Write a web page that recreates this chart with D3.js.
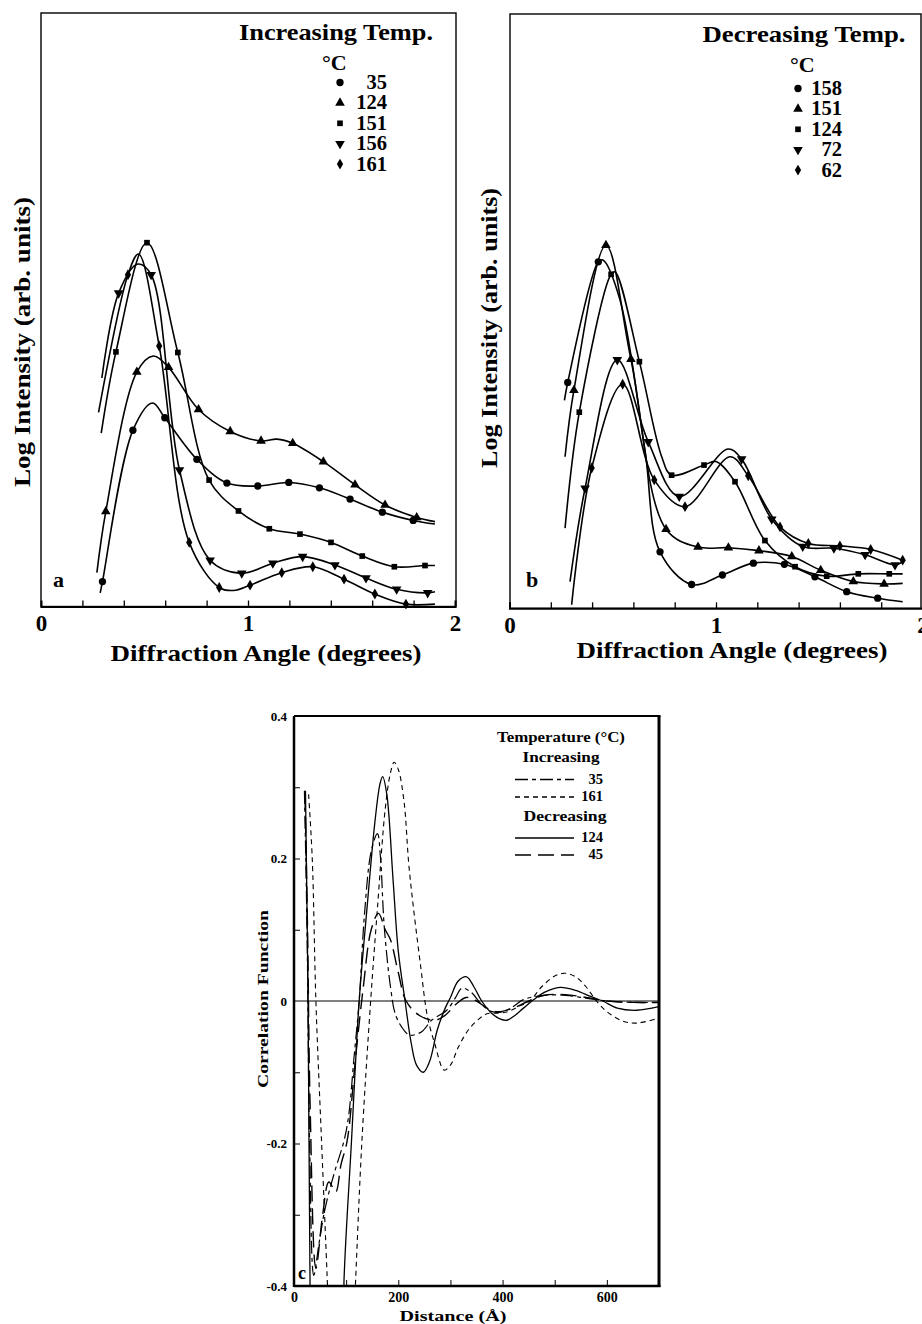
<!DOCTYPE html>
<html><head><meta charset="utf-8">
<script src="https://cdn.jsdelivr.net/npm/d3@7"></script>
<style>body{margin:0;background:#fff}svg{display:block;background:#fff}</style>
</head><body>
<svg id="c" width="922" height="1324"></svg>
<script>
// ================= DATA =================
// Panel a: increasing temperature (x = diffraction angle, y = log intensity, arb. units 0..10)
const a35_x  = [0.286,0.297,0.444,0.539,0.598,0.753,0.898,1.047,1.197,1.345,1.493,1.649,1.798,1.903];
const a35_y  = [0.23,0.42,2.97,3.43,3.18,2.48,2.08,2.03,2.09,2.00,1.81,1.59,1.45,1.39];
const a35_m  = [0,1,1,0,1,1,1,1,1,1,1,1,1,0];
const a124_x = [0.270,0.313,0.463,0.542,0.616,0.761,0.914,1.063,1.140,1.216,1.364,1.517,1.662,1.815,1.903];
const a124_y = [0.57,1.60,3.95,4.22,4.03,3.32,2.95,2.79,2.82,2.75,2.44,2.05,1.71,1.50,1.43];
const a124_m = [0,1,1,0,1,1,1,1,0,1,1,1,1,1,0];
const a151_x = [0.291,0.362,0.512,0.661,0.812,0.954,1.103,1.251,1.401,1.552,1.707,1.855,1.903];
const a151_y = [2.92,4.29,6.13,4.28,2.13,1.61,1.31,1.22,1.08,0.85,0.67,0.69,0.69];
const a151_m = [0,1,1,1,1,1,1,1,1,1,1,1,0];
const a156_x = [0.294,0.375,0.468,0.532,0.669,0.817,0.970,1.120,1.264,1.420,1.570,1.718,1.868,1.903];
const a156_y = [3.85,5.28,5.77,5.59,2.30,0.78,0.56,0.73,0.84,0.70,0.48,0.29,0.23,0.25];
const a156_m = [0,1,0,1,1,1,1,1,1,1,1,1,1,0];
const a161_x = [0.278,0.420,0.471,0.571,0.716,0.861,0.930,1.010,1.163,1.313,1.464,1.613,1.763,1.903];
const a161_y = [3.27,5.59,5.94,4.39,1.08,0.32,0.27,0.36,0.57,0.67,0.46,0.21,0.04,0.04];
const a161_m = [0,1,0,1,1,1,0,1,1,1,1,1,1,0];

// Panel b: decreasing temperature
const b158_x = [0.266,0.282,0.430,0.452,0.535,0.656,0.729,0.882,1.031,1.181,1.331,1.479,1.633,1.783,1.904];
const b158_y = [3.50,3.80,5.83,5.86,5.19,2.66,0.95,0.40,0.56,0.76,0.74,0.53,0.28,0.17,0.11];
const b158_m = [0,1,1,0,0,0,1,1,1,1,1,1,1,1,0];
const b151_x = [0.269,0.312,0.467,0.588,0.758,0.913,1.060,1.208,1.367,1.507,1.665,1.814,1.904];
const b151_y = [2.55,3.67,6.11,4.19,1.33,1.03,1.02,0.97,0.87,0.64,0.45,0.41,0.42];
const b151_m = [0,1,1,1,1,1,1,1,1,1,1,1,0];
const b124_x = [0.269,0.338,0.492,0.511,0.629,0.737,0.785,0.942,1.000,1.092,1.237,1.383,1.536,1.689,1.839,1.904];
const b124_y = [1.35,3.30,5.62,5.66,4.15,2.55,2.24,2.41,2.47,2.13,1.14,0.70,0.54,0.58,0.58,0.58];
const b124_m = [0,1,1,0,1,0,1,1,0,1,1,1,1,1,1,0];
const b72_x  = [0.293,0.366,0.522,0.672,0.822,1.058,1.124,1.270,1.420,1.571,1.722,1.867,1.904];
const b72_y  = [0.45,2.02,4.18,2.80,1.88,2.68,2.51,1.50,1.04,1.01,0.90,0.73,0.78];
const b72_m  = [0,1,1,1,1,0,1,1,1,1,1,1,0];
const b62_x  = [0.301,0.398,0.548,0.701,0.850,1.068,1.156,1.310,1.447,1.600,1.749,1.904];
const b62_y  = [0.06,2.36,3.77,2.16,1.71,2.55,2.23,1.37,1.09,1.05,0.99,0.81];
const b62_m  = [0,1,1,1,1,0,1,1,1,1,1,1];

// Panel c: correlation function vs distance (Å)
const c35_x  = [20,25,30,38,48,60,77,96,105,115,125,135,148,160,166,173,185,195,210,222,245,264,293,310,322,340,360,380,400,420,440,480,520,560,600,650,700];
const c35_y  = [0.295,0.1,-0.2,-0.385,-0.34,-0.29,-0.242,-0.196,-0.16,-0.08,0.0,0.12,0.21,0.235,0.2,0.105,0.02,-0.02,-0.04,-0.048,-0.043,-0.027,-0.013,0.005,0.018,0.012,-0.005,-0.015,-0.015,-0.008,0.002,0.008,0.008,0.004,0.0,-0.002,-0.002];
const c161_x = [28,35,42,53,64,72,100,112,118,130,147,160,175,185,192,200,211,221,243,256,270,288,300,315,335,355,370,390,410,430,452,475,500,520,540,560,580,600,630,657,700];
const c161_y = [0.29,0.2,0.0,-0.2,-0.395,-0.55,-0.6,-0.5,-0.395,-0.2,0.0,0.13,0.27,0.32,0.335,0.325,0.28,0.185,0.048,-0.022,-0.06,-0.097,-0.09,-0.065,-0.04,-0.025,-0.018,-0.017,-0.015,-0.008,0.0,0.02,0.035,0.039,0.034,0.02,0.0,-0.015,-0.028,-0.031,-0.024];
const c124_x = [22,27,31,36,90,96,110,125,140,155,165,170,178,190,200,213,225,235,248,260,275,290,300,315,331,345,360,380,395,408,420,440,460,480,510,540,570,592,620,657,700];
const c124_y = [0.295,0.0,-0.42,-0.6,-0.6,-0.39,-0.2,0.0,0.13,0.25,0.305,0.315,0.29,0.17,0.07,0.0,-0.06,-0.09,-0.1,-0.085,-0.04,-0.01,0.005,0.028,0.034,0.02,0.0,-0.018,-0.025,-0.027,-0.022,-0.01,0.002,0.012,0.019,0.015,0.006,0.0,-0.01,-0.013,-0.008];
const c45_x  = [21,26,31,42,55,67,80,90,102,118,133,148,162,175,185,200,215,240,270,290,310,330,350,370,390,420,450,480,520,560,600,650,700];
const c45_y  = [0.29,0.1,-0.15,-0.375,-0.3,-0.254,-0.268,-0.23,-0.196,-0.08,0.02,0.1,0.123,0.1,0.086,0.04,0.0,-0.02,-0.027,-0.02,-0.005,0.005,0.0,-0.01,-0.015,-0.01,0.0,0.008,0.009,0.005,0.0,-0.002,-0.002];

// Tick labels / legend text
const abTickVals = [0,1,2];
const abMinorVals = [0.2,0.4,0.6,0.8,1.0,1.2,1.4,1.6,1.8];
const cXTickVals = [0,200,400,600];
const cXMinorVals = [100,200,300,400,500,600];
const cYTickVals = [-0.4,-0.2,0,0.2,0.4];
const cYTickLabels = ["-0.4","-0.2","0","0.2","0.4"];
const cYMinorVals = [-0.3,-0.2,-0.1,0.1,0.2,0.3];
const legA_labels = ["35","124","151","156","161"];
const legB_labels = ["158","151","124","72","62"];
const legC_inc = ["35","161"];
const legC_dec = ["124","45"];

// ================= DRAWING =================
const svg = d3.select("#c");
const FONT = "'Liberation Serif','Times New Roman',serif";

function txt(g, x, y, s, size, o = {}) {
  const t = g.append("text").attr("x", x).attr("y", y).text(s)
    .attr("font-family", FONT).attr("font-weight", "bold").attr("font-size", size)
    .attr("text-anchor", o.anchor || "start").attr("fill", "#000");
  if (o.len) t.attr("textLength", o.len).attr("lengthAdjust", "spacingAndGlyphs");
  if (o.rot) t.attr("transform", `rotate(-90,${x},${y})`);
  return t;
}

const SYM = {
  circle:  {type: d3.symbolCircle,   size: 42, rot: 0},
  up:      {type: d3.symbolTriangle, size: 40, rot: 0},
  square:  {type: d3.symbolSquare,   size: 32, rot: 0},
  down:    {type: d3.symbolTriangle, size: 40, rot: 180},
  diamond: {type: d3.symbolDiamond,  size: 34, rot: 0}
};
function marker(g, cx, cy, key) {
  const s = SYM[key];
  g.append("path").attr("d", d3.symbol().type(s.type).size(s.size)())
    .attr("transform", `translate(${cx},${cy}) rotate(${s.rot})`)
    .attr("fill", "#000");
}

function diffPanel(cfg) {
  const g = svg.append("g");
  const x = d3.scaleLinear().domain([0, 2]).range([cfg.x0, cfg.x1]);
  const y = d3.scaleLinear().domain([0, 10]).range([cfg.yb, cfg.yt]);
  g.append("rect").attr("x", cfg.fl).attr("y", cfg.yt).attr("width", cfg.fr - cfg.fl).attr("height", cfg.yb - cfg.yt)
    .attr("fill", "none").attr("stroke", "#000").attr("stroke-width", 1.4);
  const ax = g.append("g").attr("transform", `translate(0,${cfg.yb})`)
    .call(d3.axisBottom(x).tickValues(abMinorVals).tickSize(-6).tickFormat(""));
  ax.select(".domain").attr("stroke-width", 2);
  ax.selectAll(".tick line").attr("stroke-width", 1.3);
  const lab = g.append("g").attr("transform", `translate(0,${cfg.yb})`)
    .call(d3.axisBottom(x).tickValues(abTickVals).tickSize(0).tickPadding(8).tickFormat(d3.format("d")));
  lab.select(".domain").remove();
  lab.selectAll("text").attr("font-family", FONT).attr("font-weight", "bold").attr("font-size", 23).attr("fill", "#000");
  txt(g, cfg.xlabX, cfg.xlabY, "Diffraction Angle (degrees)", 23, {anchor: "middle", len: 311});
  txt(g, cfg.ylabX, cfg.ylabY, "Log Intensity (arb. units)", 23, {anchor: "middle", len: cfg.ylabLen, rot: true});
  txt(g, cfg.letX, cfg.letY, cfg.letter, 22);
  const line = d3.line().x(d => x(d[0])).y(d => y(d[1])).curve(d3.curveCatmullRom.alpha(0.5));
  cfg.series.forEach(s => {
    const pts = s.x.map((v, i) => [v, s.y[i]]);
    g.append("path").attr("d", line(pts)).attr("fill", "none").attr("stroke", "#000").attr("stroke-width", 1.6);
  });
  cfg.series.forEach(s => {
    s.x.forEach((v, i) => { if (s.m[i]) marker(g, x(v), y(s.y[i]), s.sym); });
  });
  txt(g, cfg.legTitleX, cfg.legTitleY, cfg.legTitle, 23, {anchor: "middle", len: cfg.legTitleLen});
  txt(g, cfg.degX, cfg.degY, "°C", 22);
  cfg.series.forEach((s, i) => {
    const by = cfg.legY0 + i * cfg.legDy;
    marker(g, cfg.legMX, by - 6.5, s.sym);
    txt(g, cfg.legNX, by, cfg.legLabels[i], 20.5, {anchor: "end"});
  });
}

diffPanel({
  x0: 41, x1: 455, fl: 41, fr: 456, yt: 13, yb: 606.5,
  xlabX: 266, xlabY: 661, ylabX: 30, ylabY: 342, ylabLen: 290,
  letter: "a", letX: 53, letY: 587,
  legTitle: "Increasing Temp.", legTitleX: 336, legTitleY: 40, legTitleLen: 194,
  degX: 322, degY: 70, legMX: 340, legNX: 387, legY0: 89, legDy: 20.4, legLabels: legA_labels,
  series: [
    {x: a35_x, y: a35_y, m: a35_m, sym: "circle"},
    {x: a124_x, y: a124_y, m: a124_m, sym: "up"},
    {x: a151_x, y: a151_y, m: a151_m, sym: "square"},
    {x: a156_x, y: a156_y, m: a156_m, sym: "down"},
    {x: a161_x, y: a161_y, m: a161_m, sym: "diamond"}
  ]
});

diffPanel({
  x0: 509.5, x1: 922.5, fl: 510, fr: 921, yt: 14, yb: 608.3,
  xlabX: 732, xlabY: 658, ylabX: 497, ylabY: 328, ylabLen: 280,
  letter: "b", letX: 526, letY: 587,
  legTitle: "Decreasing Temp.", legTitleX: 804, legTitleY: 42, legTitleLen: 203,
  degX: 790, degY: 72, legMX: 798, legNX: 842, legY0: 95, legDy: 20.4, legLabels: legB_labels,
  series: [
    {x: b158_x, y: b158_y, m: b158_m, sym: "circle"},
    {x: b151_x, y: b151_y, m: b151_m, sym: "up"},
    {x: b124_x, y: b124_y, m: b124_m, sym: "square"},
    {x: b72_x, y: b72_y, m: b72_m, sym: "down"},
    {x: b62_x, y: b62_y, m: b62_m, sym: "diamond"}
  ]
});

// ---- Panel c ----
(function () {
  const g = svg.append("g");
  const L = 294, R = 659, T = 716, B = 1286;
  const x = d3.scaleLinear().domain([0, 700]).range([L, R]);
  const y = d3.scaleLinear().domain([-0.4, 0.4]).range([B, T]);
  g.append("defs").append("clipPath").attr("id", "clipc")
    .append("rect").attr("x", L).attr("y", T).attr("width", R - L).attr("height", B - T);
  g.append("line").attr("x1", L).attr("x2", R).attr("y1", y(0)).attr("y2", y(0)).attr("stroke", "#000").attr("stroke-width", 1);
  const ay = g.append("g").attr("transform", `translate(${L},0)`)
    .call(d3.axisLeft(y).tickValues(cYMinorVals).tickSize(-6).tickFormat(""));
  ay.select(".domain").remove();
  const ayl = g.append("g").attr("transform", `translate(${L},0)`)
    .call(d3.axisLeft(y).tickValues(cYTickVals).tickSize(0).tickPadding(7)
      .tickFormat((d, i) => cYTickLabels[i]));
  ayl.select(".domain").remove();
  ayl.selectAll("text").attr("font-family", FONT).attr("font-weight", "bold").attr("font-size", 13).attr("fill", "#000");
  const axm = g.append("g").attr("transform", `translate(0,${B})`)
    .call(d3.axisBottom(x).tickValues(cXMinorVals).tickSize(-6).tickFormat(""));
  axm.select(".domain").remove();
  const axl = g.append("g").attr("transform", `translate(0,${B})`)
    .call(d3.axisBottom(x).tickValues(cXTickVals).tickSize(0).tickPadding(6).tickFormat(d3.format("d")));
  axl.select(".domain").remove();
  axl.selectAll("text").attr("font-family", FONT).attr("font-weight", "bold").attr("font-size", 14).attr("fill", "#000");
  g.selectAll(".tick line").attr("stroke", "#000").attr("stroke-width", 1);
  g.append("line").attr("x1", L).attr("x2", R + 1.5).attr("y1", T).attr("y2", T).attr("stroke", "#000").attr("stroke-width", 2);
  g.append("line").attr("x1", L).attr("x2", R + 1.5).attr("y1", B).attr("y2", B).attr("stroke", "#000").attr("stroke-width", 2.5);
  g.append("line").attr("x1", L).attr("x2", L).attr("y1", T).attr("y2", B + 1).attr("stroke", "#000").attr("stroke-width", 2.5);
  g.append("line").attr("x1", R).attr("x2", R).attr("y1", T).attr("y2", B + 1).attr("stroke", "#000").attr("stroke-width", 3);
  txt(g, 453, 1321, "Distance (Å)", 15, {anchor: "middle", len: 107});
  txt(g, 268, 999, "Correlation Function", 15, {anchor: "middle", len: 178, rot: true});
  txt(g, 298, 1279, "c", 18);
  const line = d3.line().x(d => x(d[0])).y(d => y(d[1])).curve(d3.curveCatmullRom.alpha(0.5));
  const series = [
    {x: c35_x, y: c35_y, dash: "13,4,4,4", w: 1.2},
    {x: c161_x, y: c161_y, dash: "5,4", w: 1.1},
    {x: c124_x, y: c124_y, dash: null, w: 1.3},
    {x: c45_x, y: c45_y, dash: "16,7", w: 1.4}
  ];
  const cg = g.append("g").attr("clip-path", "url(#clipc)");
  series.forEach(s => {
    const p = cg.append("path").attr("d", line(s.x.map((v, i) => [v, s.y[i]])))
      .attr("fill", "none").attr("stroke", "#000").attr("stroke-width", s.w);
    if (s.dash) p.attr("stroke-dasharray", s.dash);
  });
  txt(g, 561, 742, "Temperature (°C)", 14.5, {anchor: "middle", len: 128});
  txt(g, 561, 762, "Increasing", 14.5, {anchor: "middle", len: 77});
  txt(g, 565, 821, "Decreasing", 14.5, {anchor: "middle", len: 83});
  const legRows = [
    {lab: legC_inc[0], s: series[0], ly: 779.5, ty: 784},
    {lab: legC_inc[1], s: series[1], ly: 797, ty: 801},
    {lab: legC_dec[0], s: series[2], ly: 838, ty: 842},
    {lab: legC_dec[1], s: series[3], ly: 855, ty: 859}
  ];
  legRows.forEach(r => {
    const l = g.append("line").attr("x1", 515).attr("x2", 574).attr("y1", r.ly).attr("y2", r.ly)
      .attr("stroke", "#000").attr("stroke-width", r.s.w + 0.2);
    if (r.s.dash) l.attr("stroke-dasharray", r.s.dash);
    txt(g, 603, r.ty, r.lab, 14.5, {anchor: "end"});
  });
})();
</script>
</body></html>
